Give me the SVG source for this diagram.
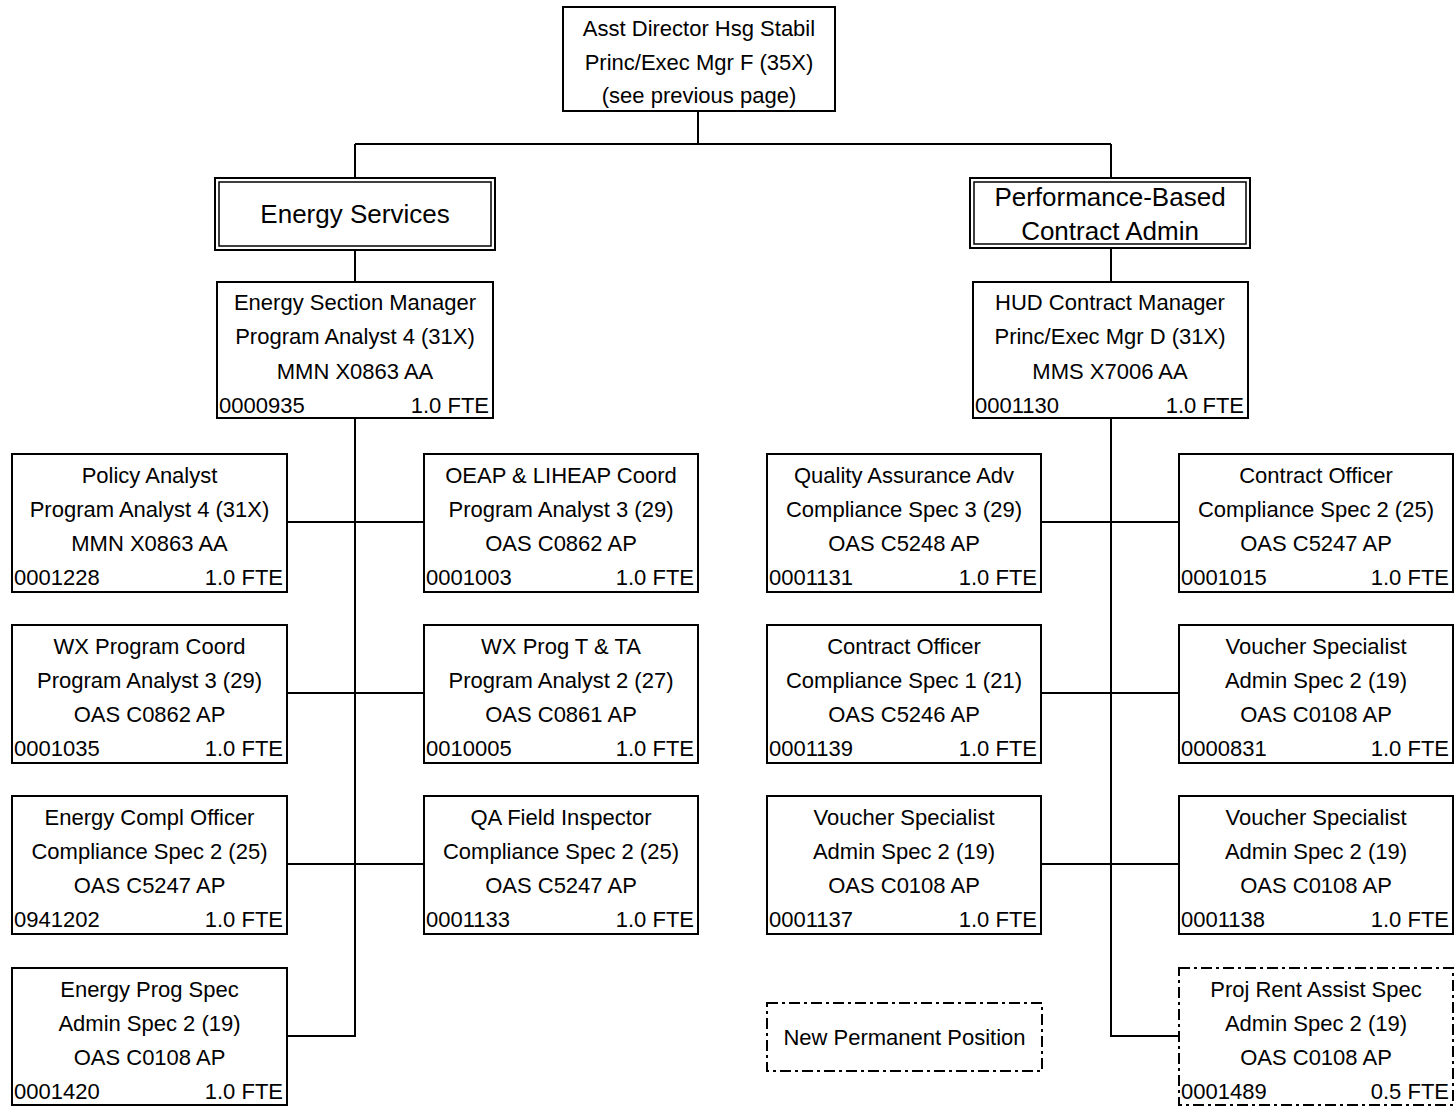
<svg xmlns="http://www.w3.org/2000/svg" width="1456" height="1106" viewBox="0 0 1456 1106">
  <style>
    .box { fill: #ffffff; stroke: #000000; stroke-width: 2; }
    .inner { fill: none; stroke: #000000; stroke-width: 1.5; }
    .dash { fill: #ffffff; stroke: #000000; stroke-width: 2; stroke-dasharray: 11 4 3 4; }
    .wire { fill: none; stroke: #000000; stroke-width: 2; }
    text { font-family: "Liberation Sans", Arial, sans-serif; font-size: 22px; fill: #000000; }
    .c { text-anchor: middle; }
    .r { text-anchor: end; }
    .big { font-size: 26px; }
  </style>

  <rect width="1456" height="1106" fill="#ffffff"/>

  <!-- connectors -->
  <g id="connectors">
    <path class="wire" d="M698 111 V144 M355 144 H1111 M355 144 V178 M1111 144 V178"/>
    <path class="wire" d="M355 250 V282 M1111 248 V282"/>
    <!-- Energy Services spine -->
    <path class="wire" d="M355 418 V1036 H287 M287 522 H424 M287 693 H424 M287 864 H424"/>
    <!-- Contract Admin spine -->
    <path class="wire" d="M1111 418 V1036 H1179 M1041 522 H1179 M1041 693 H1179 M1041 864 H1179"/>
  </g>

  <!-- top position -->
  <g id="n-asst-director">
    <rect class="box" x="563" y="7" width="272" height="104"/>
    <text class="c" x="699" y="36">Asst Director Hsg Stabil</text>
    <text class="c" x="699" y="70">Princ/Exec Mgr F (35X)</text>
    <text class="c" x="699" y="103">(see previous page)</text>
  </g>

  <!-- section headers -->
  <g id="n-energy-services">
    <rect class="box" x="215" y="178" width="280" height="72"/>
    <rect class="inner" x="219" y="182" width="272" height="64"/>
    <text class="c big" x="355" y="223">Energy Services</text>
  </g>
  <g id="n-pbca">
    <rect class="box" x="970" y="178" width="280" height="70"/>
    <rect class="inner" x="974" y="182" width="272" height="62"/>
    <text class="c big" x="1110" y="206">Performance-Based</text>
    <text class="c big" x="1110" y="240">Contract Admin</text>
  </g>

  <!-- managers -->
  <g id="n-energy-mgr">
    <rect class="box" x="217" y="282" width="276" height="136"/>
    <text class="c" x="355" y="310">Energy Section Manager</text>
    <text class="c" x="355" y="344">Program Analyst 4 (31X)</text>
    <text class="c" x="355" y="379">MMN X0863 AA</text>
    <text x="219" y="413">0000935</text>
    <text class="r" x="489" y="413">1.0 FTE</text>
  </g>
  <g id="n-hud-mgr">
    <rect class="box" x="973" y="282" width="275" height="136"/>
    <text class="c" x="1110" y="310">HUD Contract Manager</text>
    <text class="c" x="1110" y="344">Princ/Exec Mgr D (31X)</text>
    <text class="c" x="1110" y="379">MMS X7006 AA</text>
    <text x="975" y="413">0001130</text>
    <text class="r" x="1244" y="413">1.0 FTE</text>
  </g>

  <!-- Energy Services staff -->
  <g id="n-policy-analyst">
    <rect class="box" x="12" y="454" width="275" height="138"/>
    <text class="c" x="149.5" y="483">Policy Analyst</text>
    <text class="c" x="149.5" y="517">Program Analyst 4 (31X)</text>
    <text class="c" x="149.5" y="551">MMN X0863 AA</text>
    <text x="14" y="585">0001228</text>
    <text class="r" x="283" y="585">1.0 FTE</text>
  </g>
  <g id="n-oeap-liheap">
    <rect class="box" x="424" y="454" width="274" height="138"/>
    <text class="c" x="561" y="483">OEAP &amp; LIHEAP Coord</text>
    <text class="c" x="561" y="517">Program Analyst 3 (29)</text>
    <text class="c" x="561" y="551">OAS C0862 AP</text>
    <text x="426" y="585">0001003</text>
    <text class="r" x="694" y="585">1.0 FTE</text>
  </g>
  <g id="n-wx-coord">
    <rect class="box" x="12" y="625" width="275" height="138"/>
    <text class="c" x="149.5" y="654">WX Program Coord</text>
    <text class="c" x="149.5" y="688">Program Analyst 3 (29)</text>
    <text class="c" x="149.5" y="722">OAS C0862 AP</text>
    <text x="14" y="756">0001035</text>
    <text class="r" x="283" y="756">1.0 FTE</text>
  </g>
  <g id="n-wx-prog">
    <rect class="box" x="424" y="625" width="274" height="138"/>
    <text class="c" x="561" y="654">WX Prog T &amp; TA</text>
    <text class="c" x="561" y="688">Program Analyst 2 (27)</text>
    <text class="c" x="561" y="722">OAS C0861 AP</text>
    <text x="426" y="756">0010005</text>
    <text class="r" x="694" y="756">1.0 FTE</text>
  </g>
  <g id="n-energy-compl">
    <rect class="box" x="12" y="796" width="275" height="138"/>
    <text class="c" x="149.5" y="825">Energy Compl Officer</text>
    <text class="c" x="149.5" y="859">Compliance Spec 2 (25)</text>
    <text class="c" x="149.5" y="893">OAS C5247 AP</text>
    <text x="14" y="927">0941202</text>
    <text class="r" x="283" y="927">1.0 FTE</text>
  </g>
  <g id="n-qa-field">
    <rect class="box" x="424" y="796" width="274" height="138"/>
    <text class="c" x="561" y="825">QA Field Inspector</text>
    <text class="c" x="561" y="859">Compliance Spec 2 (25)</text>
    <text class="c" x="561" y="893">OAS C5247 AP</text>
    <text x="426" y="927">0001133</text>
    <text class="r" x="694" y="927">1.0 FTE</text>
  </g>
  <g id="n-energy-prog-spec">
    <rect class="box" x="12" y="968" width="275" height="137"/>
    <text class="c" x="149.5" y="997">Energy Prog Spec</text>
    <text class="c" x="149.5" y="1031">Admin Spec 2 (19)</text>
    <text class="c" x="149.5" y="1065">OAS C0108 AP</text>
    <text x="14" y="1099">0001420</text>
    <text class="r" x="283" y="1099">1.0 FTE</text>
  </g>

  <!-- Contract Admin staff -->
  <g id="n-qa-adv">
    <rect class="box" x="767" y="454" width="274" height="138"/>
    <text class="c" x="904" y="483">Quality Assurance Adv</text>
    <text class="c" x="904" y="517">Compliance Spec 3 (29)</text>
    <text class="c" x="904" y="551">OAS C5248 AP</text>
    <text x="769" y="585">0001131</text>
    <text class="r" x="1037" y="585">1.0 FTE</text>
  </g>
  <g id="n-contract-officer-2">
    <rect class="box" x="1179" y="454" width="274" height="138"/>
    <text class="c" x="1316" y="483">Contract Officer</text>
    <text class="c" x="1316" y="517">Compliance Spec 2 (25)</text>
    <text class="c" x="1316" y="551">OAS C5247 AP</text>
    <text x="1181" y="585">0001015</text>
    <text class="r" x="1449" y="585">1.0 FTE</text>
  </g>
  <g id="n-contract-officer-1">
    <rect class="box" x="767" y="625" width="274" height="138"/>
    <text class="c" x="904" y="654">Contract Officer</text>
    <text class="c" x="904" y="688">Compliance Spec 1 (21)</text>
    <text class="c" x="904" y="722">OAS C5246 AP</text>
    <text x="769" y="756">0001139</text>
    <text class="r" x="1037" y="756">1.0 FTE</text>
  </g>
  <g id="n-voucher-0831">
    <rect class="box" x="1179" y="625" width="274" height="138"/>
    <text class="c" x="1316" y="654">Voucher Specialist</text>
    <text class="c" x="1316" y="688">Admin Spec 2 (19)</text>
    <text class="c" x="1316" y="722">OAS C0108 AP</text>
    <text x="1181" y="756">0000831</text>
    <text class="r" x="1449" y="756">1.0 FTE</text>
  </g>
  <g id="n-voucher-1137">
    <rect class="box" x="767" y="796" width="274" height="138"/>
    <text class="c" x="904" y="825">Voucher Specialist</text>
    <text class="c" x="904" y="859">Admin Spec 2 (19)</text>
    <text class="c" x="904" y="893">OAS C0108 AP</text>
    <text x="769" y="927">0001137</text>
    <text class="r" x="1037" y="927">1.0 FTE</text>
  </g>
  <g id="n-voucher-1138">
    <rect class="box" x="1179" y="796" width="274" height="138"/>
    <text class="c" x="1316" y="825">Voucher Specialist</text>
    <text class="c" x="1316" y="859">Admin Spec 2 (19)</text>
    <text class="c" x="1316" y="893">OAS C0108 AP</text>
    <text x="1181" y="927">0001138</text>
    <text class="r" x="1449" y="927">1.0 FTE</text>
  </g>
  <g id="n-proj-rent">
    <rect class="dash" x="1179" y="968" width="274" height="137"/>
    <text class="c" x="1316" y="997">Proj Rent Assist Spec</text>
    <text class="c" x="1316" y="1031">Admin Spec 2 (19)</text>
    <text class="c" x="1316" y="1065">OAS C0108 AP</text>
    <text x="1181" y="1099">0001489</text>
    <text class="r" x="1449" y="1099">0.5 FTE</text>
  </g>

  <!-- legend -->
  <g id="legend-new-position">
    <rect class="dash" x="767" y="1003" width="275" height="68"/>
    <text class="c" x="904.5" y="1045">New Permanent Position</text>
  </g>
</svg>
